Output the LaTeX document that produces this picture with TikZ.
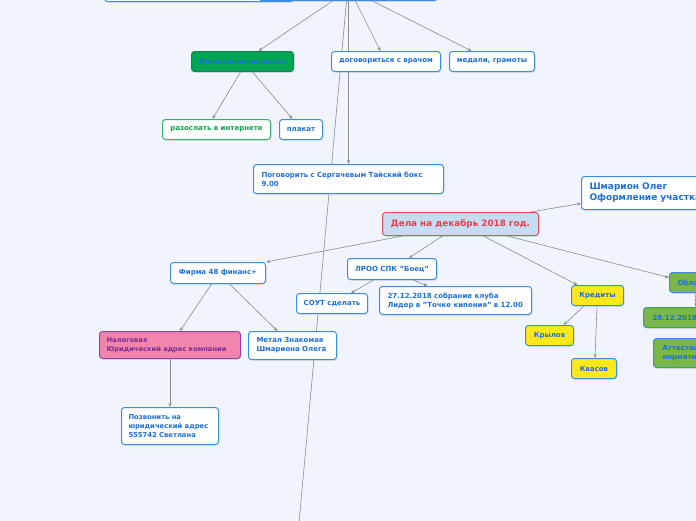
\documentclass[tikz,border=0pt]{standalone}
\usepackage{fontspec}
\setmainfont{DejaVu Sans}
\usetikzlibrary{shadows,arrows.meta}
\definecolor{bgc}{HTML}{F1F4FD}
\definecolor{bord}{HTML}{3B8DE3}
\definecolor{tblue}{HTML}{1D6FDB}
\definecolor{edgec}{HTML}{8C8C8C}
\definecolor{gfill}{HTML}{00A651}
\definecolor{gbord}{HTML}{1C7E58}
\definecolor{gtext}{HTML}{12A052}
\definecolor{gbord2}{HTML}{2DB36A}
\definecolor{delfill}{HTML}{C6DCF0}
\definecolor{delbord}{HTML}{E8505B}
\definecolor{deltext}{HTML}{E8404B}
\definecolor{pfill}{HTML}{F285AD}
\definecolor{pbord}{HTML}{8E44AD}
\definecolor{ptext}{HTML}{7B2D8E}
\definecolor{yfill}{HTML}{FFE81A}
\definecolor{lgfill}{HTML}{7AB648}
\pgfdeclarelayer{bgl}
\pgfdeclarelayer{edl}
\pgfsetlayers{bgl,edl,main}
\tikzset{
  box/.style={draw=bord, fill=white, line width=1pt, rounded corners=3pt,
    text=tblue, font=\fontsize{7}{9}\selectfont\bfseries, anchor=north west,
    inner sep=2pt, drop shadow={opacity=0.22, shadow xshift=0.8pt, shadow yshift=-1pt}},
  lbox/.style={box, align=left, inner xsep=8pt},
  conn/.style={draw=edgec, line width=0.6pt, -{Stealth[length=4pt,width=3.2pt]}},
  plain/.style={draw=edgec, line width=0.6pt},
}
\begin{document}
\begin{tikzpicture}[x=1pt,y=-1pt]
\useasboundingbox (0,0) rectangle (696,520);
\clip (0,0) rectangle (696,520);
\begin{pgfonlayer}{bgl}
\fill[bgc] (-5,-5) rectangle (701,525);
\end{pgfonlayer}

% top (partly visible) nodes
\node[box, minimum width=189, minimum height=20] (topb) at (104,-19) {};
\node[box, minimum width=179, minimum height=20] (topa) at (258,-20) {};

\node[box, fill=gfill, draw=gbord, minimum width=102, minimum height=20] (pol) at (191,51) {Положение написать};
\node[box, minimum width=109, minimum height=20] (vrach) at (331,51) {договориться с врачом};
\node[box, minimum width=85, minimum height=20] (med) at (449,51) {медали, грамоты};
\node[box, draw=gbord2, text=gtext, minimum width=108, minimum height=20] (inet) at (162,119) {разослать в интернете};
\node[box, minimum width=43, minimum height=20] (plakat) at (279,119) {плакат};
\node[lbox, minimum height=29, text width=174] (serg) at (253,164) {Поговорить с Сергачевым Тайский бокс\\9.00};
\node[lbox, minimum height=33, text width=140, font=\fontsize{9}{11}\selectfont\bfseries] (shm) at (581,176) {Шмарион Олег\\Оформление участка};
\node[box, fill=delfill, draw=delbord, text=deltext, minimum width=156, minimum height=23, font=\fontsize{8.8}{10}\selectfont\bfseries] (dela) at (382,212) {Дела на декабрь 2018 год.};
\node[box, minimum width=95, minimum height=21] (firma) at (170,262) {Фирма 48 финанс+};
\node[box, minimum width=89, minimum height=21] (lroo) at (347,258) {ЛРОО СПК "Боец"};
\node[box, minimum width=71, minimum height=20] (sout) at (296,293) {СОУТ сделать};
\node[lbox, minimum height=28, text width=136] (sobr) at (379,286) {27.12.2018 собрание клуба\\Лидер в "Точке кипения" в 12.00};
\node[box, fill=yfill, minimum width=52, minimum height=20] (kred) at (571,285) {Кредиты};
\node[lbox, fill=lgfill, minimum height=20, text width=40] (obl) at (669,272) {Областной};
\node[lbox, fill=lgfill, minimum height=20, text width=60, inner xsep=9pt] (d2812) at (643,307) {28.12.2018 г.};
\node[lbox, fill=lgfill, minimum height=29, text width=60, inner xsep=9pt] (att) at (653,338) {Аттестация\\нормативы};
\node[lbox, fill=pfill, draw=pbord, text=ptext, minimum height=27, text width=127, inner xsep=7pt, font=\fontsize{6.7}{8.7}\selectfont\bfseries] (nalog) at (99,331) {Налоговая\\Юридический адрес компании};
\node[lbox, minimum height=28, text width=72] (metal) at (248,331) {Метал Знакомая\\Шмариона Олега};
\node[box, fill=yfill, minimum width=48, minimum height=20] (kryl) at (525,325) {Крылов};
\node[box, fill=yfill, minimum width=45, minimum height=20] (kvas) at (571,358) {Квасов};
\node[lbox, minimum height=37, text width=83, inner xsep=7pt, font=\fontsize{6.8}{8.6}\selectfont\bfseries] (zvon) at (121,407) {Позвонить на\\юридический адрес\\555742 Светлана};
\coordinate (far) at (297,545);

\begin{pgfonlayer}{edl}
\draw[conn] ([xshift=-15.5pt]topa.south) -- ([xshift=16pt]pol.north);
\draw[conn] ([xshift=7.5pt]topa.south) -- ([xshift=-5.5pt]vrach.north);
\draw[conn] ([xshift=24.5pt]topa.south) -- ([xshift=-20.5pt]med.north);
\draw[conn] ([xshift=0.5pt]topa.south) -- (serg.north);
\draw[plain] ([xshift=-1.5pt]topa.south) -- (far);
\draw[conn] ([xshift=-2pt]pol.south) -- ([xshift=-4pt]inet.north);
\draw[conn] ([xshift=10pt]pol.south) -- ([xshift=-8.5pt]plakat.north);
\draw[conn] ([xshift=70pt]dela.north) -- ([yshift=-10.5pt]shm.west);
\draw[conn] ([xshift=-58pt]dela.south) -- (firma.north east);
\draw[conn] ([xshift=-18pt]dela.south) -- ([xshift=17pt]lroo.north);
\draw[conn] ([xshift=23pt]dela.south) -- ([xshift=-20pt]kred.north);
\draw[conn] ([xshift=47pt]dela.south) -- ([yshift=5pt]obl.west);
\draw[conn] ([xshift=-18.5pt]lroo.south) -- ([xshift=19pt]sout.north);
\draw[conn] ([xshift=21.5pt]lroo.south) -- ([xshift=-28pt]sobr.north);
\draw[conn] ([xshift=-6.5pt]firma.south) -- ([xshift=10pt]nalog.north);
\draw[conn] ([xshift=11.5pt]firma.south) -- ([xshift=-15pt]metal.north);
\draw[conn] (nalog.south) -- (zvon.north);
\draw[conn] ([xshift=-13.5pt]kred.south) -- ([xshift=14pt]kryl.north);
\draw[conn] ([xshift=-0.5pt]kred.south) -- ([xshift=1pt]kvas.north);
\draw[conn] ([xshift=26pt]obl.south west) -- ([xshift=53pt]d2812.north west);
\end{pgfonlayer}
\end{tikzpicture}
\end{document}
